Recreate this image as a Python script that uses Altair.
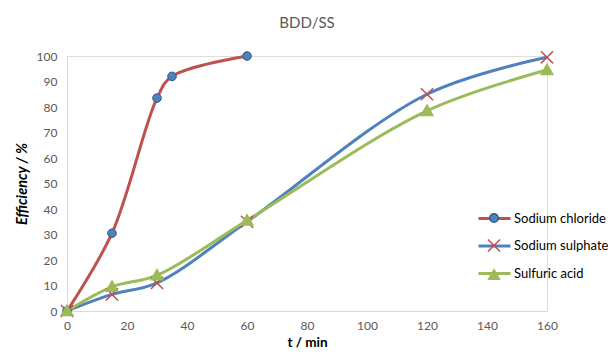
import altair as alt
import pandas as pd

series_names = ["Sodium chloride", "Sodium sulphate", "Sulfuric acid"]

t_nacl = [0, 15, 30, 35, 60]
eff_nacl = [0, 30.5, 83.5, 92, 100]

t_na2so4 = [0, 15, 30, 60, 120, 160]
eff_na2so4 = [0, 6.5, 11, 35, 85, 99.5]

t_h2so4 = [0, 15, 30, 60, 120, 160]
eff_h2so4 = [0, 9.5, 14, 35.5, 78.5, 94.5]

x_ticks = [0, 20, 40, 60, 80, 100, 120, 140, 160]
y_ticks = [0, 10, 20, 30, 40, 50, 60, 70, 80, 90, 100]

line_colors = ["#C0504D", "#4F81BD", "#9BBB59"]
marker_fill = ["#4F81BD", "#C0504D", "#9BBB59"]
marker_stroke = ["#2E5C8A", "#C0504D", "#9BBB59"]
marker_shapes = [
    "M-0.27,0A0.27,0.27 0 1,0 0.27,0A0.27,0.27 0 1,0 -0.27,0Z",
    "M-0.38,-0.38L0.38,0.38M-0.38,0.38L0.38,-0.38",
    "M0,-0.33L0.34,0.27L-0.34,0.27Z",
]
marker_widths = [1, 2, 1]

rows = []
for name, ts, es in [(series_names[0], t_nacl, eff_nacl),
                     (series_names[1], t_na2so4, eff_na2so4),
                     (series_names[2], t_h2so4, eff_h2so4)]:
    for i, (t, e) in enumerate(zip(ts, es)):
        rows.append({"series": name, "marker": name, "t": t, "eff": e, "idx": i})
df = pd.DataFrame(rows)

FONT = "Lato"
LEG_X, LEG_Y, SYM = 410, 145, 1024

x_enc = alt.X("t:Q", scale=alt.Scale(domain=[0, 160], nice=False),
              axis=alt.Axis(values=x_ticks, title="t / min", grid=False, ticks=False,
                            domainColor="#D9D9D9", labelColor="#595959", labelFontSize=12,
                            labelFont=FONT, labelPadding=9, labelFlush=False, labelOverlap=False,
                            titleFont=FONT, titleFontSize=13.5,
                            titleFontWeight="bold", titleColor="#000000", titlePadding=4))
y_enc = alt.Y("eff:Q", scale=alt.Scale(domain=[0, 100], nice=False),
              axis=alt.Axis(values=y_ticks, title="Efficiency / %", grid=False, ticks=False,
                            domainColor="#D9D9D9", labelColor="#595959", labelFontSize=12,
                            labelFont=FONT, labelPadding=10, labelFlush=False, labelOverlap=False,
                            titleFont=FONT, titleFontSize=14.5,
                            titleFontWeight="bold", titleFontStyle="italic", titleColor="#000000",
                            titlePadding=7))

lines = alt.Chart(df).mark_line(interpolate="catmull-rom", strokeWidth=3).encode(
    x=x_enc, y=y_enc,
    color=alt.Color("series:N", scale=alt.Scale(domain=series_names, range=line_colors),
                    legend=alt.Legend(orient="none", legendX=LEG_X, legendY=LEG_Y, title=None,
                                      symbolType="M-1,0L1,0", symbolSize=SYM, symbolStrokeWidth=3,
                                      labelFont=FONT, labelFontSize=13, labelColor="#000000",
                                      rowPadding=2.5, padding=0, labelOffset=2)),
    order="idx:Q",
)

pt_legend = alt.Legend(orient="none", legendX=LEG_X, legendY=LEG_Y, title=None,
                       symbolSize=SYM, labelFont=FONT, labelFontSize=13, labelExpr="''",
                       rowPadding=2.5, padding=0, labelOffset=2, symbolStrokeWidth=1.5)

points = alt.Chart(df).mark_point(filled=True, opacity=1, size=SYM).encode(
    x=x_enc, y=y_enc,
    shape=alt.Shape("marker:N", scale=alt.Scale(domain=series_names, range=marker_shapes), legend=pt_legend),
    fill=alt.Fill("marker:N", scale=alt.Scale(domain=series_names, range=marker_fill), legend=pt_legend),
    stroke=alt.Stroke("marker:N", scale=alt.Scale(domain=series_names, range=marker_stroke), legend=pt_legend),
    strokeWidth=alt.StrokeWidth("marker:N", scale=alt.Scale(domain=series_names, range=marker_widths), legend=None),
)

chart = alt.layer(lines, points).properties(
    width=480, height=255,
    title=alt.TitleParams("BDD/SS", font=FONT, fontSize=15, fontWeight="normal", color="#595959",
                          anchor="middle", offset=17),
    autosize=alt.AutoSizeParams(type="none"),
    padding={"left": 59, "top": 48, "right": 61, "bottom": 39},
).resolve_legend(color="independent", shape="independent", fill="independent", stroke="independent"
).configure_view(stroke=None).configure(background="white")

chart.save("out.html", embed_options={"renderer": "svg", "actions": False})
